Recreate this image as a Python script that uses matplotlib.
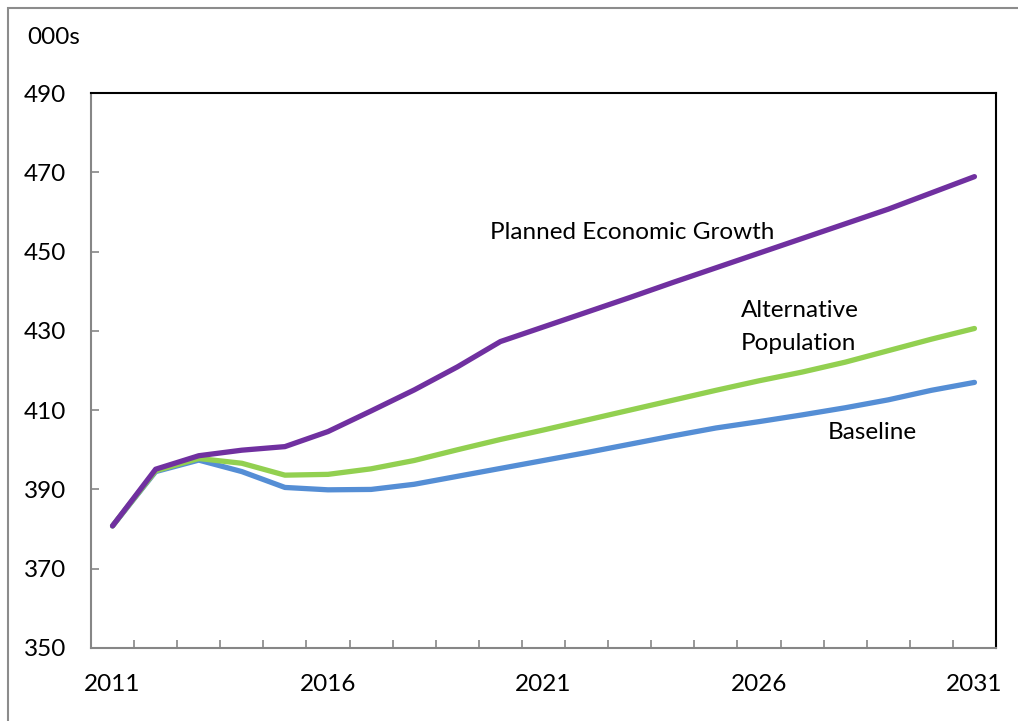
import matplotlib
matplotlib.use("Agg")
import matplotlib.pyplot as plt
from matplotlib.patches import Rectangle

plt.rcParams['font.family'] = ['Lato', 'DejaVu Sans']

years = list(range(2011, 2032))
baseline = [380.8, 394.5, 397.4, 394.5, 390.5, 389.9, 390.0, 391.3, 393.3, 395.3,
            397.3, 399.3, 401.4, 403.5, 405.5, 407.1, 408.8, 410.6, 412.6, 415.0, 417.0]
alternative = [380.8, 394.7, 397.8, 396.6, 393.6, 393.8, 395.2, 397.3, 400.0, 402.6,
               405.0, 407.5, 410.0, 412.5, 415.0, 417.4, 419.6, 422.1, 425.0, 427.9, 430.6]
planned = [380.8, 395.1, 398.5, 399.9, 400.8, 404.6, 409.8, 415.1, 420.9, 427.3,
           431.0, 434.7, 438.4, 442.2, 445.9, 449.6, 453.3, 457.0, 460.7, 464.8, 468.9]

label_years = [2011, 2016, 2021, 2026, 2031]
y_ticks = [350, 370, 390, 410, 430, 450, 470, 490]

fig = plt.figure(figsize=(10.18, 7.21), dpi=100)
ax = fig.add_axes([91 / 1018, 1 - 648 / 721, (996 - 91) / 1018, (648 - 93) / 721])

# outer chart frame
fig.patches.append(Rectangle((8 / 1018, -0.1), 1.2, (721 - 8) / 721 + 0.1,
                             transform=fig.transFigure, fill=False,
                             edgecolor='#8c8c8c', linewidth=1.5))

ax.plot(years, baseline, color='#558ED5', linewidth=3.8, solid_capstyle='round')
ax.plot(years, alternative, color='#92D050', linewidth=3.8, solid_capstyle='round')
ax.plot(years, planned, color='#7030A0', linewidth=3.8, solid_capstyle='round')

ax.set_xlim(2010.5, 2031.5)
ax.set_ylim(350, 490)
ax.set_yticks(y_ticks)
ax.set_xticks(label_years)
ax.set_xticks([y + 0.5 for y in range(2010, 2031)], minor=True)

ax.tick_params(axis='x', which='major', length=0, pad=19, labelsize=17.5)
ax.tick_params(axis='x', which='minor', direction='in', length=6, width=1.2, color='#868686')
ax.tick_params(axis='y', direction='in', length=6, width=1.2, color='#868686',
               pad=18, labelsize=17.5)

for side in ['left', 'bottom']:
    ax.spines[side].set_color('#868686')
    ax.spines[side].set_linewidth(1.5)
for side in ['top', 'right']:
    ax.spines[side].set_color('black')
    ax.spines[side].set_linewidth(1.5)

fig.text(27 / 1018, 1 - 37 / 721, '000s', fontsize=17.5, va='center', ha='left')

ax.text(2019.76, 454.8, 'Planned Economic Growth', fontsize=17.5, va='center', ha='left')
ax.text(2025.58, 431.0, 'Alternative\nPopulation', fontsize=17.5, va='center', ha='left',
        linespacing=1.75)
ax.text(2027.6, 404.3, 'Baseline', fontsize=17.5, va='center', ha='left')

fig.savefig('out.png', dpi=100)
